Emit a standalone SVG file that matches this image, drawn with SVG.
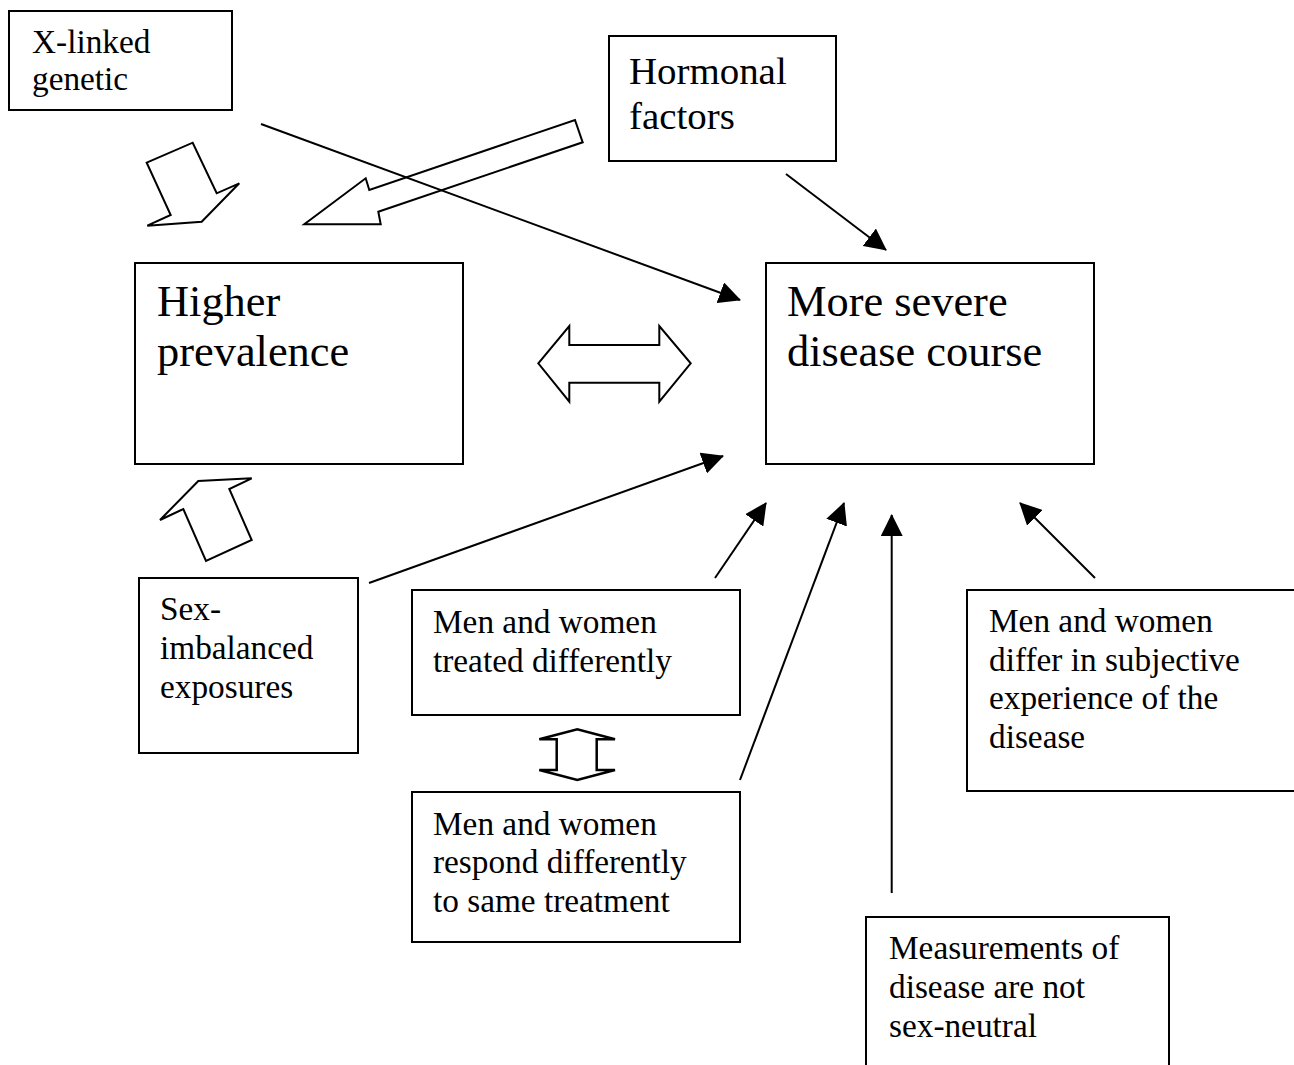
<svg xmlns="http://www.w3.org/2000/svg" width="1294" height="1065" viewBox="0 0 1294 1065">
<defs>
<marker id="ah" markerUnits="userSpaceOnUse" markerWidth="22" markerHeight="22" refX="21" refY="11" orient="auto" viewBox="0 0 22 22">
<path d="M0,0 L22,11 L0,22 z" fill="#000"/>
</marker>
<style>
.box{fill:#fff;stroke:#000;stroke-width:2}
.t{font-family:"Liberation Serif","Times New Roman",serif;fill:#000}
.s{font-size:33.3px}
.m{font-size:38.9px}
.l{font-size:44.4px}
.blk{fill:none;stroke:#000;stroke-width:2;stroke-linejoin:miter}
.c{stroke:#000;stroke-width:2;fill:none;marker-end:url(#ah)}
</style>
</defs>
<rect width="1294" height="1065" fill="#fff"/>
<g id="n-xlinked">
<rect class="box" x="9" y="11" width="223" height="99"/>
<text class="t s" x="32" y="53">X-linked</text>
<text class="t s" x="32" y="90">genetic</text>
</g>
<g id="n-hormonal">
<rect class="box" x="609" y="36" width="227" height="125"/>
<text class="t m" x="629" y="84">Hormonal</text>
<text class="t m" x="629" y="129">factors</text>
</g>
<g id="n-prevalence">
<rect class="box" x="135" y="263" width="328" height="201"/>
<text class="t l" x="157" y="316">Higher</text>
<text class="t l" x="157" y="366">prevalence</text>
</g>
<g id="n-severe">
<rect class="box" x="766" y="263" width="328" height="201"/>
<text class="t l" x="787" y="316">More severe</text>
<text class="t l" x="787" y="366">disease course</text>
</g>
<g id="n-exposures">
<rect class="box" x="139" y="578" width="219" height="175"/>
<text class="t s" x="160" y="620">Sex-</text>
<text class="t s" x="160" y="659">imbalanced</text>
<text class="t s" x="160" y="698">exposures</text>
</g>
<g id="n-treated">
<rect class="box" x="412" y="590" width="328" height="125"/>
<text class="t s" x="433" y="633">Men and women</text>
<text class="t s" x="433" y="672">treated differently</text>
</g>
<g id="n-respond">
<rect class="box" x="412" y="792" width="328" height="150"/>
<text class="t s" x="433" y="835">Men and women</text>
<text class="t s" x="433" y="873">respond differently</text>
<text class="t s" x="433" y="912">to same treatment</text>
</g>
<g id="n-differ">
<rect class="box" x="967" y="590" width="340" height="201"/>
<text class="t s" x="989" y="632">Men and women</text>
<text class="t s" x="989" y="671">differ in subjective</text>
<text class="t s" x="989" y="709">experience of the</text>
<text class="t s" x="989" y="748">disease</text>
</g>
<g id="n-measurements">
<rect class="box" x="866" y="917" width="303" height="160"/>
<text class="t s" x="889" y="959">Measurements of</text>
<text class="t s" x="889" y="998">disease are not</text>
<text class="t s" x="889" y="1037">sex-neutral</text>
</g>
<g id="connectors">
<polygon class="blk" points="146.7,162.7 192.7,142.7 216.7,193.3 239.3,183.3 201.7,221.7 147.3,225.7 170.7,215"/>
<polygon class="blk" points="575,120 582.7,142.3 378.3,211.7 380.7,224.3 304.3,224.3 365.7,178.3 369.3,190"/>
<polygon class="blk" points="160,520 198.3,481 251.7,478.3 229.3,489 251.7,540 206,561 183.3,509"/>
<polygon class="blk" points="538.3,363.3 569.3,326 569.3,345 659.3,345 659.3,326 690.7,363.3 659.3,401.7 659.3,382.7 569.3,382.7 569.3,401.7"/>
<polygon class="blk" style="stroke-width:2.5" points="539.3,739.3 577.3,729.3 615,739.3 596.7,739.3 596.7,770 615,770 577.3,780 539.3,770 556.7,770 556.7,739.3"/>
<line class="c" x1="261" y1="124" x2="740" y2="300"/>
<line class="c" x1="786" y1="174" x2="886" y2="250"/>
<line class="c" x1="369" y1="583" x2="723" y2="456"/>
<line class="c" x1="715" y1="578" x2="766" y2="503"/>
<line class="c" x1="740" y1="780" x2="844" y2="503"/>
<line class="c" x1="891.7" y1="893" x2="891.7" y2="515"/>
<line class="c" x1="1095" y1="578" x2="1020" y2="503"/>
</g>
</svg>
